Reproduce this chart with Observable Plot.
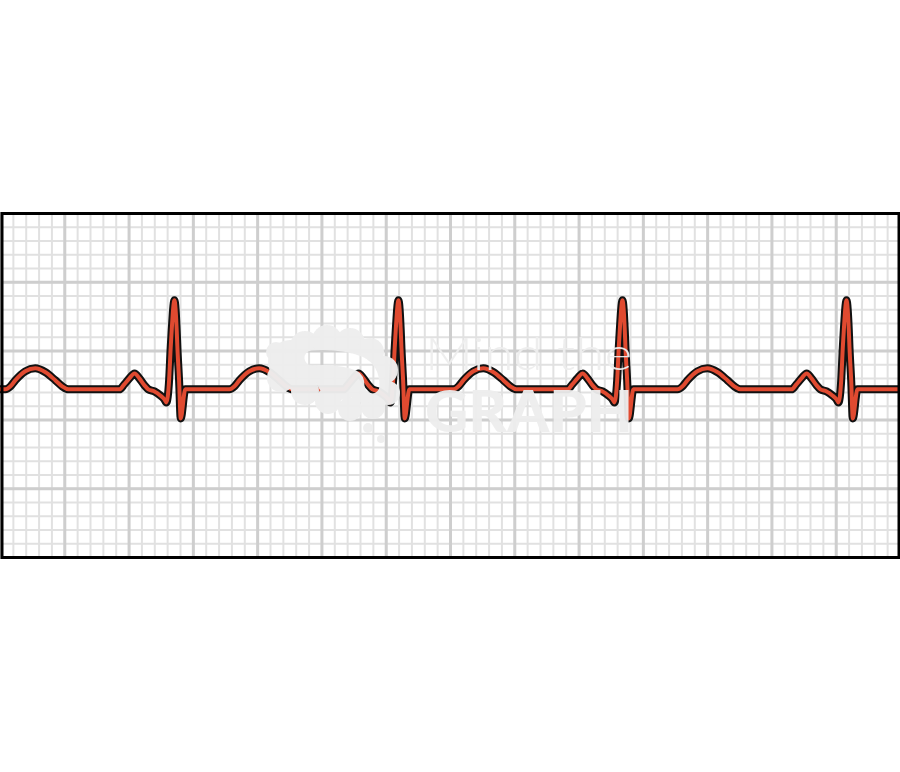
<!DOCTYPE html>
<html>
<head>
<meta charset="utf-8">
<script src="https://cdn.jsdelivr.net/npm/d3@7"></script>
<script src="https://cdn.jsdelivr.net/npm/@observablehq/plot@0.6"></script>
<style>
  html, body { margin: 0; padding: 0; background: #ffffff; }
  svg { display: block; }
</style>
</head>
<body>
<div id="chart"></div>
<script>
// ---- Data (time in seconds, voltage in mV relative to baseline) ----
// R-peak times of the beats on the strip (first one lies just off the left edge)
const rPeakTimes = [-0.156, 0.541, 1.238, 1.935, 2.632];
// One PQRST complex: offsets from the R peak (s)
const beatOffsets = [-0.171, -0.156, -0.140, -0.124, -0.109, -0.093, -0.081, -0.062, -0.044, -0.031, -0.025,
                     -0.0165, -0.0115, -0.0084, 0.000, 0.0072, 0.0093, 0.0146, 0.0196, 0.034,
                     0.171, 0.187, 0.202, 0.233, 0.264, 0.296, 0.327, 0.348, 0.367];
// ... and the matching voltages (mV)
const beatVoltages = [0.000, 0.036, 0.080, 0.116, 0.080, 0.029, 0.000, -0.015, -0.044, -0.073, -0.095,
                      0.065, 0.305, 0.429, 0.647, 0.429, 0.305, 0.065, -0.211, 0.000,
                      0.000, 0.022, 0.065, 0.131, 0.153, 0.124, 0.065, 0.022, 0.000];
// ECG paper: small box 0.04 s x 0.1 mV, large box 0.2 s x 0.5 mV
const timeDomain = [0, 2.8];
const voltDomain = [-1.222, 1.278];
const minorTimeTicks = d3.range(0, 2.8001, 0.04);
const majorTimeTicks = d3.range(0, 2.8001, 0.2);
const minorVoltTicks = d3.range(-1.222, 1.2781, 0.1);
const majorVoltTicks = d3.range(-1.222, 1.2781, 0.5);
const watermarkLines = ["Mind the", "GRAPH"];

// Build the trace from the beat template
const trace = [];
for (const r of rPeakTimes) {
  beatOffsets.forEach((o, i) => trace.push({t: r + o, v: beatVoltages[i]}));
}
trace.sort((a, b) => a.t - b.t);

const svg = Plot.plot({
  width: 900,
  height: 772,
  marginTop: 213,
  marginBottom: 215,
  marginLeft: 0,
  marginRight: 0,
  x: {domain: timeDomain, axis: null},
  y: {domain: voltDomain, axis: null},
  marks: [
    Plot.ruleX(minorTimeTicks, {stroke: "#e1e1e1", strokeWidth: 2}),
    Plot.ruleY(minorVoltTicks, {stroke: "#e1e1e1", strokeWidth: 2}),
    Plot.ruleX(majorTimeTicks, {stroke: "#cecece", strokeWidth: 3}),
    Plot.ruleY(majorVoltTicks, {stroke: "#cecece", strokeWidth: 3}),
    Plot.line(trace, {x: "t", y: "v", stroke: "#111111", strokeWidth: 8, curve: "monotone-x",
                      strokeLinejoin: "round", strokeLinecap: "round", clip: true}),
    Plot.line(trace, {x: "t", y: "v", stroke: "#e04a30", strokeWidth: 4, curve: "monotone-x",
                      strokeLinejoin: "round", strokeLinecap: "round", clip: true}),
    Plot.frame({stroke: "#000000", strokeWidth: 3, insetLeft: 1.5, insetRight: 1.5})
  ]
});
document.getElementById("chart").appendChild(svg);

// ---- Watermark (decoration drawn over the strip) ----
const s = d3.select(svg);
const defs = s.append("defs");
const mask = defs.append("mask").attr("id", "logo-mask");
mask.append("rect").attr("x", 0).attr("y", 0).attr("width", 900).attr("height", 772).attr("fill", "white");
mask.append("path")
  .attr("d", "M312 358 Q340 356 360 364 Q372 370 372 386")
  .attr("fill", "none").attr("stroke", "black").attr("stroke-width", 15).attr("stroke-linecap", "round");
const logo = s.append("g").attr("mask", "url(#logo-mask)").attr("fill", "#eeeeee").attr("opacity", 0.97);
const blobs = [[290,362,22],[305,346,15],[327,340,15],[350,343,15],[370,352,14],[384,370,14],[388,393,12],
               [373,407,12],[350,409,12],[328,401,13],[305,391,14],[281,378,14],[300,372,20],[340,375,25],
               [365,385,18],[276,352,10],[368,428,5],[381,439,4]];
blobs.forEach(([cx, cy, r]) => logo.append("circle").attr("cx", cx).attr("cy", cy).attr("r", r));

s.append("text").text(watermarkLines[0])
  .attr("x", 425).attr("y", 370).attr("text-anchor", "start")
  .attr("font-family", "Lato, Roboto, sans-serif").attr("font-weight", 300)
  .attr("font-size", 45).attr("textLength", 207).attr("lengthAdjust", "spacingAndGlyphs")
  .attr("fill", "#eeeeee").attr("opacity", 0.95);
s.append("text").text(watermarkLines[1])
  .attr("x", 425).attr("y", 432).attr("text-anchor", "start")
  .attr("font-family", "Lato, Roboto, sans-serif").attr("font-weight", 900)
  .attr("font-size", 58).attr("textLength", 208).attr("lengthAdjust", "spacingAndGlyphs")
  .attr("fill", "#eeeeee").attr("opacity", 0.95);
</script>
</body>
</html>
